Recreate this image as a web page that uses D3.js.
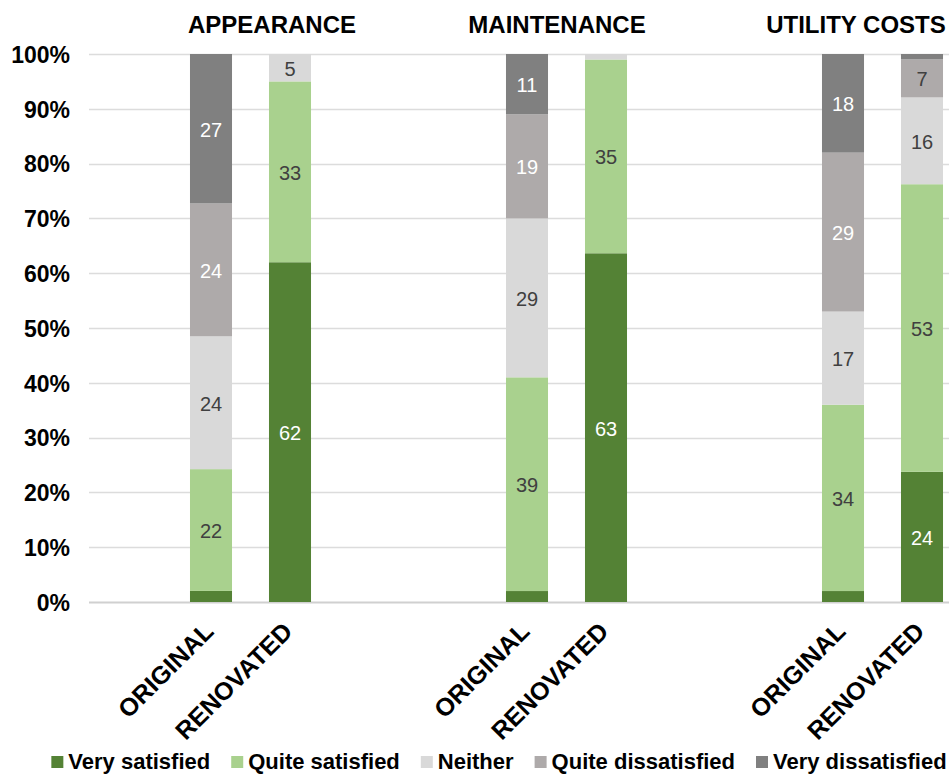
<!DOCTYPE html>
<html>
<head>
<meta charset="utf-8">
<script src="https://cdn.jsdelivr.net/npm/d3@7"></script>
<style>
  html, body { margin: 0; padding: 0; background: #ffffff; }
  svg { display: block; font-family: Arial, "Liberation Sans", sans-serif; }
</style>
</head>
<body>
<svg id="chart" width="949" height="775"></svg>
<script>
// Survey topics and the two housing states compared under each
const topics = ["APPEARANCE", "MAINTENANCE", "UTILITY COSTS"];
const states = ["ORIGINAL", "RENOVATED"];

// Answer categories, bottom of the stack first
const answers = ["Very satisfied", "Quite satisfied", "Neither", "Quite dissatisfied", "Very dissatisfied"];
const answerColors = ["#548235", "#a9d18e", "#d9d9d9", "#aeaaaa", "#808080"];

// Share of respondents (%) per answer, one row per topic/state bar
const veryDissatisfied  = [27, 0, 11, 0, 18, 1];
const quiteDissatisfied = [24, 0, 19, 0, 29, 7];
const neither           = [24, 5, 29, 1, 17, 16];
const quiteSatisfied    = [22, 33, 39, 35, 34, 53];
const verySatisfied     = [2, 62, 2, 63, 2, 24];

const yTicks = [0, 0.1, 0.2, 0.3, 0.4, 0.5, 0.6, 0.7, 0.8, 0.9, 1.0];

const svg = d3.select("#chart");
const W = 949;

// Each topic owns four slots: an empty one, the two bars, another empty one
const slots = [];
topics.forEach((t, ti) => {
  slots.push("gapA-" + ti);
  states.forEach(s => slots.push(t + "|" + s));
  slots.push("gapB-" + ti);
});

const bars = [];
topics.forEach((t, ti) => states.forEach((s, si) => {
  const i = ti * 2 + si;
  bars.push({
    key: t + "|" + s, topic: t, state: s,
    values: [verySatisfied[i], quiteSatisfied[i], neither[i], quiteDissatisfied[i], veryDissatisfied[i]]
  });
}));

const plotTop = 54, plotBottom = 602, plotLeft = 89;
const step = 79, x0 = 92.5;

const x = d3.scaleBand()
  .domain(slots)
  .range([x0, x0 + step * slots.length])
  .paddingInner(0.468)
  .paddingOuter(0.234);

const y = d3.scaleLinear().domain([0, 1]).range([plotBottom, plotTop]);

// Gridlines
svg.append("g")
  .selectAll("line")
  .data(yTicks)
  .join("line")
  .attr("x1", plotLeft).attr("x2", W)
  .attr("y1", d => Math.round(y(d)) + 0.5).attr("y2", d => Math.round(y(d)) + 0.5)
  .attr("stroke", d => d === 0 ? "#d0d0d0" : "#dcdcdc")
  .attr("stroke-width", d => d === 0 ? 2 : 1.3);

// Y axis labels
const yAxis = d3.axisLeft(y).tickValues(yTicks).tickFormat(d3.format(".0%")).tickSize(0).tickPadding(0);
const yg = svg.append("g").attr("transform", "translate(70,0)").call(yAxis);
yg.select(".domain").remove();
yg.selectAll("text")
  .attr("font-size", 23).attr("font-weight", "bold").attr("fill", "#000")
  .attr("font-family", "Arial, 'Liberation Sans', sans-serif")
  .attr("dy", "0.36em");

// Stacked bars normalised to 100%
const barG = svg.append("g");
bars.forEach(b => {
  const total = d3.sum(b.values);
  let acc = 0;
  b.values.forEach((v, k) => {
    const lo = acc / total, hi = (acc + v) / total;
    acc += v;
    if (v <= 0) return;
    barG.append("rect")
      .attr("x", x(b.key))
      .attr("width", x.bandwidth())
      .attr("y", y(hi))
      .attr("height", y(lo) - y(hi))
      .attr("fill", answerColors[k]);
    if (v >= 4) {
      let col = "#404040";
      if (k === 0 || k === 4) col = "#ffffff";
      if (k === 3 && b.state === "ORIGINAL") col = "#ffffff";
      barG.append("text")
        .attr("x", x(b.key) + x.bandwidth() / 2)
        .attr("y", y((lo + hi) / 2))
        .attr("dy", "0.4em")
        .attr("text-anchor", "middle")
        .attr("font-size", 20)
        .attr("fill", col)
        .text(v);
    }
  });
});

// Topic titles above each pair of bars
const titleOffsets = [21.5, -9.5, -26.5];
topics.forEach((t, ti) => {
  const c = (x(t + "|ORIGINAL") + x(t + "|RENOVATED") + x.bandwidth()) / 2;
  svg.append("text")
    .attr("x", c + titleOffsets[ti])
    .attr("y", 33)
    .attr("text-anchor", "middle")
    .attr("font-size", 24)
    .attr("font-weight", "bold")
    .attr("fill", "#000")
    .text(t);
});

// Rotated category labels under the bars
bars.forEach(b => {
  const cx = x(b.key) + x.bandwidth() / 2 + 4;
  svg.append("text")
    .attr("transform", `translate(${cx},633) rotate(-45)`)
    .attr("text-anchor", "end")
    .attr("font-size", 25)
    .attr("font-weight", "bold")
    .attr("fill", "#000")
    .text(b.state);
});

// Legend
const legend = svg.append("g");
const items = answers.map((a, k) => {
  const g = legend.append("g");
  g.append("rect").attr("width", 12).attr("height", 12).attr("y", -13).attr("fill", answerColors[k]);
  const t = g.append("text").attr("x", 17).attr("font-size", 22).attr("font-weight", "bold").attr("fill", "#000").text(a);
  return { g, w: 17 + t.node().getComputedTextLength() };
});
const gap = 21;
const totalW = d3.sum(items, d => d.w) + gap * (items.length - 1);
let lx = 499 - totalW / 2;
items.forEach(it => {
  it.g.attr("transform", `translate(${lx},769)`);
  lx += it.w + gap;
});
</script>
</body>
</html>
